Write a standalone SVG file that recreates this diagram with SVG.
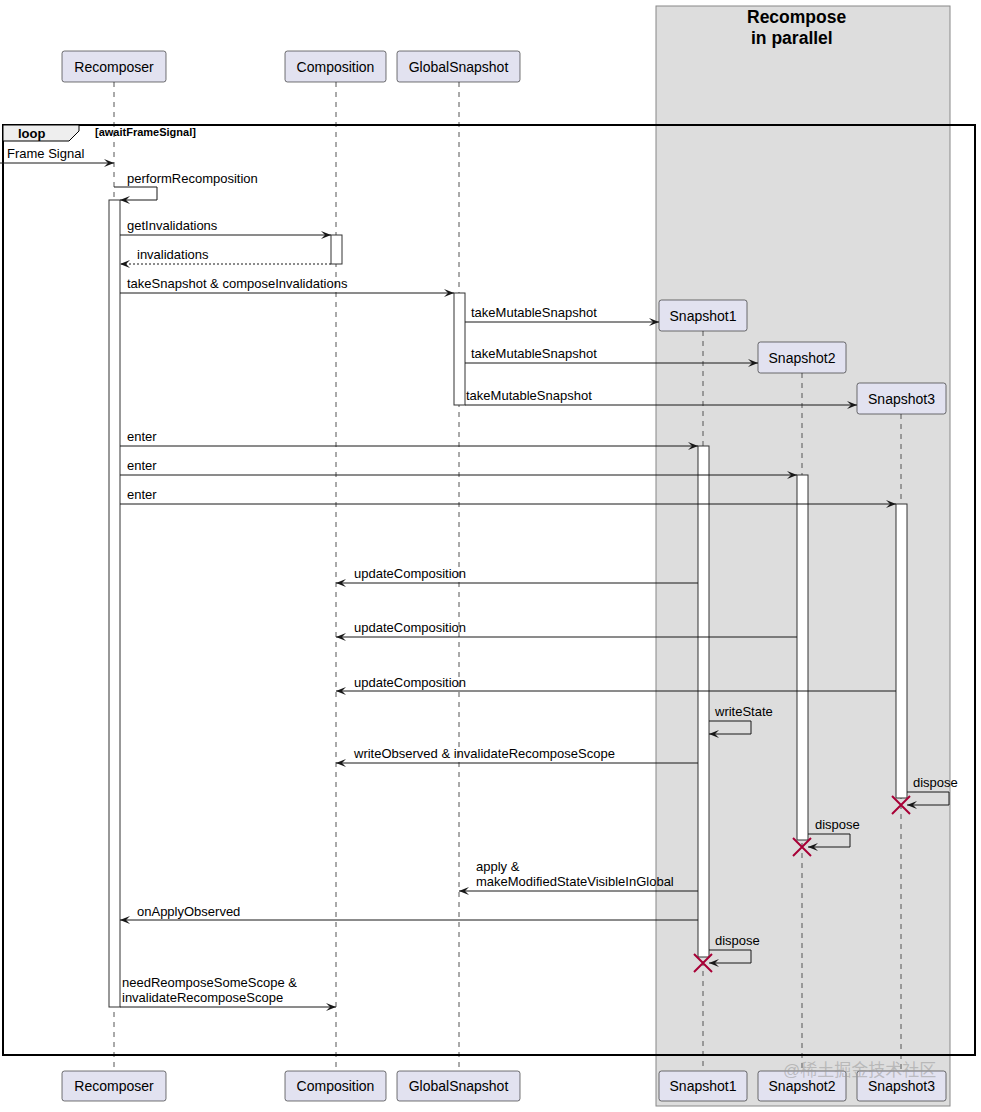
<svg xmlns="http://www.w3.org/2000/svg" width="981" height="1112" viewBox="0 0 981 1112">
<style>
text{font-family:"Liberation Sans",Arial,sans-serif;fill:#000}
.msg{font-size:13px}
.pt{font-size:14px}
.pbox{fill:#e2e2f0;stroke:#181818;stroke-width:0.6}
.life{stroke:#555;stroke-width:1;stroke-dasharray:5,5;fill:none}
.act{fill:#fff;stroke:#333;stroke-width:1}
.ln{stroke:#181818;stroke-width:1;fill:none}
.x{stroke:#a80036;stroke-width:2}
</style>
<defs>
<marker id="ah" markerWidth="10" markerHeight="8" refX="10" refY="4" orient="auto" markerUnits="userSpaceOnUse">
<path d="M0,0 L10,4 L0,8 L4,4 Z" fill="#181818"/>
</marker>
</defs>
<rect width="981" height="1112" fill="#fff"/>
<g id="box-parallel">
<rect x="656" y="6" width="294" height="1100" fill="#dddddd" stroke="#888" stroke-width="1"/>
<text x="747" y="23" style="font-size:17.5px;font-weight:bold">Recompose</text>
<text x="751" y="44" style="font-size:17.5px;font-weight:bold">in parallel</text>
</g>
<g id="lifelines">
<line class="life" x1="114" y1="82" x2="114" y2="1071"/>
<line class="life" x1="336" y1="82" x2="336" y2="1071"/>
<line class="life" x1="459" y1="82" x2="459" y2="1071"/>
<line class="life" x1="703" y1="331" x2="703" y2="1071"/>
<line class="life" x1="802" y1="373" x2="802" y2="1071"/>
<line class="life" x1="901" y1="414" x2="901" y2="1071"/>
</g>
<g id="loop">
<rect x="3" y="125" width="972" height="930" fill="none" stroke="#000" stroke-width="2"/>
<path d="M3,125 H79 V131 L69,141 H3 Z" fill="#eeeeee" stroke="#000" stroke-width="1"/>
<text x="18" y="138" style="font-size:13px;font-weight:bold">loop</text>
<text x="95" y="136" style="font-size:11px;font-weight:bold">[awaitFrameSignal]</text>
</g>
<g id="activations">
<rect class="act" x="109" y="200" width="11" height="807"/>
<rect class="act" x="331" y="235" width="11" height="29"/>
<rect class="act" x="454" y="293" width="11" height="112"/>
<rect class="act" x="698" y="446" width="11" height="511"/>
<rect class="act" x="797" y="475" width="11" height="365"/>
<rect class="act" x="896" y="504" width="11" height="294"/>
</g>
<g id="connectors">
<line class="ln" x1="0" y1="163" x2="114" y2="163" marker-end="url(#ah)"/>
<path class="ln" d="M114,187 H157 V200 H120" marker-end="url(#ah)"/>
<line class="ln" x1="120" y1="235" x2="331" y2="235" marker-end="url(#ah)"/>
<line class="ln" x1="331" y1="264" x2="120" y2="264" stroke-dasharray="2,2" marker-end="url(#ah)"/>
<line class="ln" x1="120" y1="293" x2="454" y2="293" marker-end="url(#ah)"/>
<line class="ln" x1="465" y1="322" x2="659" y2="322" marker-end="url(#ah)"/>
<line class="ln" x1="465" y1="363" x2="758" y2="363" marker-end="url(#ah)"/>
<line class="ln" x1="465" y1="405" x2="857" y2="405" marker-end="url(#ah)"/>
<line class="ln" x1="120" y1="446" x2="698" y2="446" marker-end="url(#ah)"/>
<line class="ln" x1="120" y1="475" x2="797" y2="475" marker-end="url(#ah)"/>
<line class="ln" x1="120" y1="504" x2="896" y2="504" marker-end="url(#ah)"/>
<line class="ln" x1="698" y1="583" x2="336" y2="583" marker-end="url(#ah)"/>
<line class="ln" x1="797" y1="637" x2="336" y2="637" marker-end="url(#ah)"/>
<line class="ln" x1="896" y1="691" x2="336" y2="691" marker-end="url(#ah)"/>
<path class="ln" d="M709,721 H751 V734 H709" marker-end="url(#ah)"/>
<line class="ln" x1="698" y1="763" x2="336" y2="763" marker-end="url(#ah)"/>
<path class="ln" d="M907,792 H949 V805 H907" marker-end="url(#ah)"/>
<path class="ln" d="M808,834 H850 V847 H808" marker-end="url(#ah)"/>
<line class="ln" x1="698" y1="891" x2="459" y2="891" marker-end="url(#ah)"/>
<line class="ln" x1="698" y1="920" x2="120" y2="920" marker-end="url(#ah)"/>
<path class="ln" d="M709,950 H751 V963 H709" marker-end="url(#ah)"/>
<line class="ln" x1="120" y1="1007" x2="336" y2="1007" marker-end="url(#ah)"/>
</g>
<g id="labels" class="msg">
<text class="msg" x="7" y="158">Frame Signal</text>
<text class="msg" x="127" y="183">performRecomposition</text>
<text class="msg" x="127" y="230">getInvalidations</text>
<text class="msg" x="137" y="259">invalidations</text>
<text class="msg" x="127" y="288">takeSnapshot &amp; composeInvalidations</text>
<text class="msg" x="471" y="317">takeMutableSnapshot</text>
<text class="msg" x="471" y="358">takeMutableSnapshot</text>
<text class="msg" x="466" y="400">takeMutableSnapshot</text>
<text class="msg" x="127" y="441">enter</text>
<text class="msg" x="127" y="470">enter</text>
<text class="msg" x="127" y="499">enter</text>
<text class="msg" x="354" y="578">updateComposition</text>
<text class="msg" x="354" y="632">updateComposition</text>
<text class="msg" x="354" y="687">updateComposition</text>
<text class="msg" x="715" y="716">writeState</text>
<text class="msg" x="354" y="758">writeObserved &amp; invalidateRecomposeScope</text>
<text class="msg" x="913" y="787">dispose</text>
<text class="msg" x="815" y="829">dispose</text>
<text class="msg" x="476" y="871">apply &amp;</text>
<text class="msg" x="476" y="886">makeModifiedStateVisibleInGlobal</text>
<text class="msg" x="137" y="916">onApplyObserved</text>
<text class="msg" x="715" y="945">dispose</text>
<text class="msg" x="122" y="987">needReomposeSomeScope &amp;</text>
<text class="msg" x="122" y="1002">invalidateRecomposeScope</text>
</g>
<g id="destroys">
<path class="x" d="M892,796 L910,814 M910,796 L892,814"/>
<path class="x" d="M793,838 L811,856 M811,838 L793,856"/>
<path class="x" d="M694,954 L712,972 M712,954 L694,972"/>
</g>
<g id="p-recomposer">
<rect class="pbox" x="62" y="51" width="104" height="31" rx="2.5"/>
<text class="pt" x="114" y="72" text-anchor="middle">Recomposer</text>
<rect class="pbox" x="62" y="1071" width="104" height="30" rx="2.5"/>
<text class="pt" x="114" y="1091" text-anchor="middle">Recomposer</text>
</g>
<g id="p-composition">
<rect class="pbox" x="285" y="51" width="101" height="31" rx="2.5"/>
<text class="pt" x="335.5" y="72" text-anchor="middle">Composition</text>
<rect class="pbox" x="285" y="1071" width="101" height="30" rx="2.5"/>
<text class="pt" x="335.5" y="1091" text-anchor="middle">Composition</text>
</g>
<g id="p-globalsnapshot">
<rect class="pbox" x="397" y="51" width="123" height="31" rx="2.5"/>
<text class="pt" x="458.5" y="72" text-anchor="middle">GlobalSnapshot</text>
<rect class="pbox" x="397" y="1071" width="123" height="30" rx="2.5"/>
<text class="pt" x="458.5" y="1091" text-anchor="middle">GlobalSnapshot</text>
</g>
<g id="p-snapshot1">
<rect class="pbox" x="659" y="300" width="88" height="31" rx="2.5"/>
<text class="pt" x="703" y="321" text-anchor="middle">Snapshot1</text>
<rect class="pbox" x="659" y="1071" width="88" height="30" rx="2.5"/>
<text class="pt" x="703" y="1091" text-anchor="middle">Snapshot1</text>
</g>
<g id="p-snapshot2">
<rect class="pbox" x="758" y="342" width="88" height="31" rx="2.5"/>
<text class="pt" x="802" y="363" text-anchor="middle">Snapshot2</text>
<rect class="pbox" x="758" y="1071" width="88" height="30" rx="2.5"/>
<text class="pt" x="802" y="1091" text-anchor="middle">Snapshot2</text>
</g>
<g id="p-snapshot3">
<rect class="pbox" x="857" y="383" width="89" height="31" rx="2.5"/>
<text class="pt" x="901.5" y="404" text-anchor="middle">Snapshot3</text>
<rect class="pbox" x="857" y="1071" width="89" height="30" rx="2.5"/>
<text class="pt" x="901.5" y="1091" text-anchor="middle">Snapshot3</text>
</g>
<text x="783" y="1076" style="font-family:'Liberation Sans','Noto Sans CJK SC',sans-serif;font-size:17px;fill:#999;fill-opacity:0.55">@稀土掘金技术社区</text>
</svg>
